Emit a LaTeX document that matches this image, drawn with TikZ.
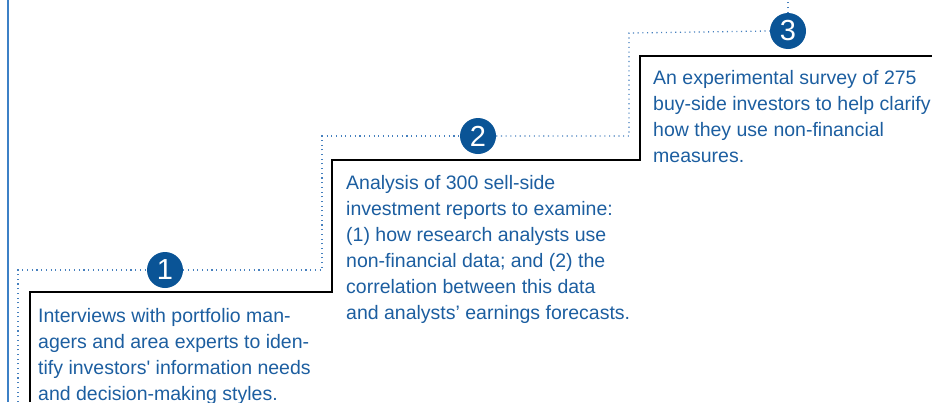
\documentclass[tikz,border=0pt]{standalone}
\usepackage{fontspec}
\setmainfont{Liberation Sans}
\definecolor{txtblue}{RGB}{28,94,160}
\definecolor{circblue}{RGB}{10,84,150}
\definecolor{dotblue}{RGB}{70,128,190}
\definecolor{edgeblue}{RGB}{60,128,198}
\tikzset{
  numcirc/.style={circle, fill=circblue, minimum size=36pt, inner sep=0pt, text=white,
    font=\fontsize{29}{29}\selectfont},
  desc/.style={anchor=base west, inner sep=0pt, align=left, text=txtblue,
    font=\fontsize{19.5}{26}\selectfont},
  stepline/.style={draw=black, line width=1.4pt},
  dotline/.style={draw=dotblue, line width=1.3pt, dash pattern=on 1.1pt off 3.6pt},
}
\begin{document}
\begin{tikzpicture}[x=1pt,y=-1pt]
\useasboundingbox (0,0) rectangle (945,402);
% left solid blue line
\coordinate (lt) at (7.5,0);
\coordinate (lb) at (7.5,402);
\draw[draw=edgeblue, line width=2pt] (lt) -- (lb);

% coordinates for step lines
\coordinate (s0) at (30,402);
\coordinate (s1) at (30,292);
\coordinate (s2) at (332,292);
\coordinate (s3) at (332,160);
\coordinate (s4) at (640,160);
\coordinate (s5) at (640,56);
\coordinate (s6) at (932,56);
\draw[stepline] (s0) -- (s1) -- (s2) -- (s3) -- (s4) -- (s5) -- (s6);

% dotted line
\coordinate (d0) at (18,402);
\coordinate (d1) at (18,270);
\coordinate (d2) at (322,270);
\coordinate (d3) at (322,136);
\coordinate (d4) at (629,136);
\coordinate (d5) at (629,33);
\coordinate (d6) at (788,0);
\node[numcirc] (c1) at (165,270) {1};
\node[numcirc] (c2) at (478,136) {2};
\node[numcirc] (c3) at (788,31) {3};
\draw[dotline] (d0) -- (d1) -- (c1.west);
\draw[dotline] (c1.east) -- (d2) -- (d3) -- (c2.west);
\draw[dotline] (c2.east) -- (d4) -- (d5) -- (c3.west);
\draw[dotline] (c3.north) -- (d6);

% texts (anchor = baseline of last line)
\node[desc] (t1) at (38,400) {Interviews with portfolio man-\\agers and area experts to iden-\\tify investors\textquotesingle{} information needs\\and decision-making styles.};
\node[desc] (t2) at (346,319) {Analysis of 300 sell-side\\investment reports to examine:\\(1) how research analysts use\\non-financial data; and (2) the\\correlation between this data\\and analysts’ earnings forecasts.};
\node[desc] (t3) at (653,162) {An experimental survey of 275\\buy-side investors to help clarify\\how they use non-financial\\measures.};
\end{tikzpicture}
\end{document}
